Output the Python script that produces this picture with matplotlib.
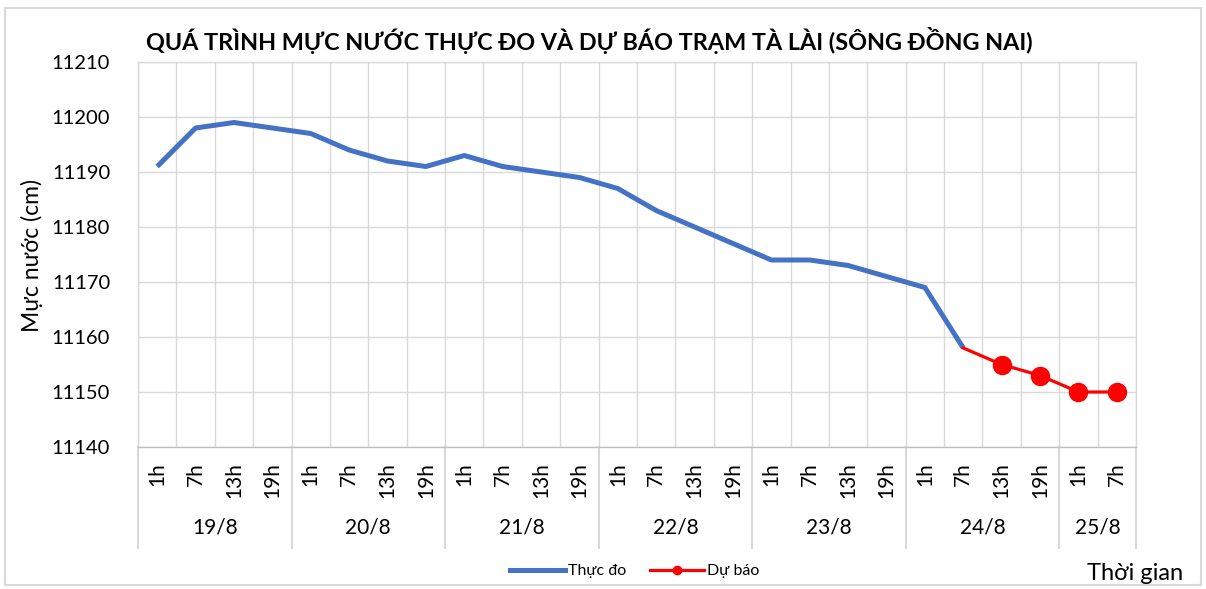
import numpy as np
import matplotlib
matplotlib.use("Agg")
import matplotlib.pyplot as plt
from matplotlib.lines import Line2D
from matplotlib.patches import Rectangle
import matplotlib.transforms as mtransforms

plt.rcParams["font.family"] = ["Lato", "DejaVu Sans"]

days = ["19/8", "20/8", "21/8", "22/8", "23/8", "24/8", "25/8"]
hours_per_day = [4, 4, 4, 4, 4, 4, 2]
hour_names = ["1h", "7h", "13h", "19h"]

# measured levels (cm), 19/8 1h .. 24/8 7h
observed = [11191, 11198, 11199, 11198,
            11197, 11194, 11192, 11191,
            11193, 11191, 11190, 11189,
            11187, 11183, 11180, 11177,
            11174, 11174, 11173, 11171,
            11169, 11158]
# forecast from 24/8 7h .. 25/8 7h
forecast = [11158, 11155, 11153, 11150, 11150]

hour_labels = []
for n in hours_per_day:
    hour_labels += hour_names[:n]
n_pts = len(hour_labels)
x = np.arange(n_pts)
x_obs = x[:len(observed)]
x_fc = x[len(observed) - 1:len(observed) - 1 + len(forecast)]

blue = "#4472C4"
red = "#FF0000"
grid_c = "#D9D9D9"

fig = plt.figure(figsize=(12.06, 5.89), dpi=100)
ax = fig.add_axes([138 / 1206, 1 - 447 / 589, 998 / 1206, 385 / 589])

ax.plot(x_obs, observed, color=blue, lw=3.6, solid_capstyle="butt", zorder=3)
ax.plot(x_fc, forecast, color=red, lw=2.3, zorder=4)
ax.plot(x_fc[1:], forecast[1:], ls="none", marker="o", ms=13, color=red, zorder=5)

ax.set_xlim(-0.5, n_pts - 0.5)
ax.set_ylim(11140, 11210)
ax.set_yticks(np.arange(11140, 11211, 10))
ax.tick_params(axis="y", length=0, pad=20, labelsize=14.5)
ax.set_xticks(x, hour_labels, rotation=90)
ax.tick_params(axis="x", length=0, pad=11, labelsize=15)
ax.set_xticks(np.arange(-0.5, n_pts, 0.5), minor=True)
ax.tick_params(axis="x", which="minor", length=0)
ax.grid(axis="y", color=grid_c, lw=1)
ax.grid(axis="x", which="minor", color=grid_c, lw=1)
ax.set_axisbelow(True)
for s in ax.spines.values():
    s.set_color(grid_c)
    s.set_linewidth(1)
ax.spines["bottom"].set_color("#BFBFBF")

# multi-level category axis
trans = mtransforms.blended_transform_factory(ax.transData, ax.transAxes)
bounds = np.concatenate([[0], np.cumsum(hours_per_day)]) - 0.5
for b in bounds:
    ax.plot([b, b], [0, -0.262], transform=trans, color=grid_c, lw=1.5, clip_on=False)
for i, d in enumerate(days):
    ax.text((bounds[i] + bounds[i + 1]) / 2, -0.208, d, transform=trans,
            ha="center", va="center", fontsize=15)

fig.text(589 / 1206, 1 - 40 / 589, "QUÁ TRÌNH MỰC NƯỚC THỰC ĐO VÀ DỰ BÁO TRẠM TÀ LÀI (SÔNG ĐỒNG NAI)",
         ha="center", va="center", fontsize=16.8, fontweight="bold")
fig.text(32 / 1206, 1 - 255 / 589, "Mực nước (cm)", rotation=90,
         ha="center", va="center", fontsize=16.5)
fig.text(1135 / 1206, 1 - 573 / 589, "Thời gian", ha="center", va="center", fontsize=17)

handles = [Line2D([], [], color=blue, lw=3.6),
           Line2D([], [], color=red, lw=2.3, marker="o", ms=6)]
fig.legend(handles, ["Thực đo", "Dự báo"], loc="center", bbox_to_anchor=(635 / 1206, 1 - 571 / 589),
           ncol=2, frameon=False, fontsize=11.5, handlelength=3.4, handletextpad=0.2,
           columnspacing=1.5)

fig.patches.append(Rectangle((5 / 1206, 1 - 585 / 589), 1196 / 1206, 577 / 589,
                             transform=fig.transFigure, fill=False, edgecolor=grid_c, lw=1.5))

fig.savefig("out.png", dpi=100)
